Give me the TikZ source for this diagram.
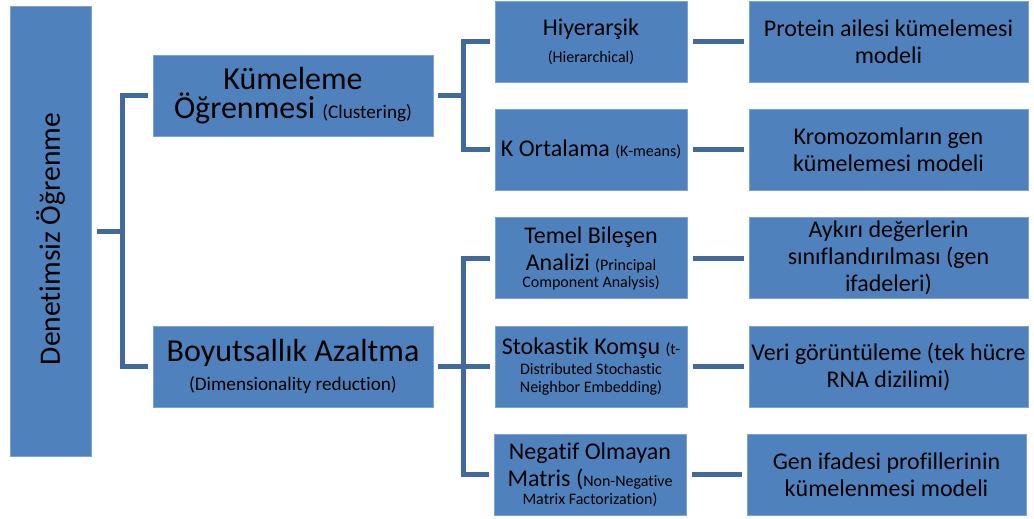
\documentclass[tikz,border=0pt]{standalone}
\usepackage{fontspec}
\setmainfont[Ligatures=NoCommon]{Carlito}
\usepackage{xcolor}
\usetikzlibrary{positioning,calc}
\definecolor{boxblue}{HTML}{4F81BD}
\definecolor{boxedge}{HTML}{7EA3D0}
\definecolor{linkblue}{HTML}{41699B}
\newcommand{\smtxt}[1]{{\fontsize{8}{9}\selectfont #1}}
\newcommand{\mdtxt}[1]{{\fontsize{9.6}{11}\selectfont #1}}

\begin{document}
\begin{tikzpicture}[x=0.5pt, y=-0.5pt,
  box/.style={rectangle, draw=boxedge, line width=0.4pt, fill=boxblue,
              align=center, inner sep=1pt, text=black},
  rootbox/.style={box, minimum width=40.5pt, minimum height=225pt,
              font=\fontsize{14.8}{17}\selectfont},
  lvtwo/.style={box, minimum width=140pt, minimum height=40.5pt,
              font=\fontsize{16}{14.5}\selectfont},
  lvthree/.style={box, minimum width=96pt, minimum height=40.5pt,
              font=\fontsize{12}{13.5}\selectfont},
  lvfour/.style={box, minimum width=139.5pt, minimum height=40.5pt,
              font=\fontsize{12}{13.5}\selectfont},
  link/.style={draw=linkblue, line width=2.5pt}]
  \useasboundingbox (0,0) rectangle (1034,519);
  % root
  \node[rootbox] (root) at (50.5,231) {\rotatebox{90}{Denetimsiz Öğrenme\kern8pt}};
  % second level
  \node[lvtwo] (kume)  at (293,95.5)  {Kümeleme\\Öğrenmesi \mdtxt{(Clustering)}};
  \node[lvtwo] (boyut) at (293,366.5) {Boyutsallık Azaltma\\\mdtxt{(Dimensionality reduction)}};
  % methods
  \node[lvthree] (hier)   at (591,42)    {Hiyerarşik\\\smtxt{(Hierarchical)}};
  \node[lvthree] (kmeans) at (591,149.5) {K Ortalama \smtxt{(K-means)}};
  \node[lvthree] (pca)    at (591,258)   {Temel Bileşen\\Analizi \smtxt{(Principal}\\[-5pt]\smtxt{Component Analysis)}};
  \node[lvthree] (tsne)   at (591,366.5) {Stokastik Komşu \smtxt{(t-}\\[-3.5pt]\smtxt{Distributed Stochastic}\\[-4.5pt]\smtxt{Neighbor Embedding)}};
  \node[lvthree] (nmf)    at (590,474.5) {Negatif Olmayan\\Matris (\smtxt{Non-Negative}\\[-4.5pt]\smtxt{Matrix Factorization)}};
  % applications
  \node[lvfour] (prot) at (888.5,42)    {Protein ailesi kümelemesi\\modeli};
  \node[lvfour] (krom) at (888.5,149.5) {Kromozomların gen\\kümelemesi modeli};
  \node[lvfour] (ayk)  at (888.5,258)   {Aykırı değerlerin\\sınıflandırılması (gen\\ifadeleri)};
  \node[lvfour] (veri) at (888.5,366.5) {Veri görüntüleme (tek hücre\\RNA dizilimi)};
  \node[lvfour] (gen)  at (886.5,474.5) {Gen ifadesi profillerinin\\kümelenmesi modeli};
  % brackets
  \coordinate (b1) at (122,231);
  \coordinate (b2) at (463,95.5);
  \coordinate (b3) at (463,366.5);
  \draw[link, shorten <=3pt] (root.east) -- (b1);
  \draw[link, shorten >=2.5pt] (b1) |- (kume.west);
  \draw[link, shorten >=2.5pt] (b1) |- (boyut.west);
  \draw[link, shorten <=2.5pt] (kume.east) -- (b2);
  \draw[link, shorten <=2.5pt] (boyut.east) -- (b3);
  \foreach \m in {hier,kmeans}
    \draw[link, shorten >=2.5pt] (b2) |- (\m.west);
  \foreach \m in {pca,tsne,nmf}
    \draw[link, shorten >=2.5pt] (b3) |- (\m.west);
  \foreach \a/\b in {hier/prot,kmeans/krom,pca/ayk,tsne/veri,nmf/gen}
    \draw[link, shorten <=3pt, shorten >=2.5pt] (\a.east) -- (\b.west);
\end{tikzpicture}
\end{document}
